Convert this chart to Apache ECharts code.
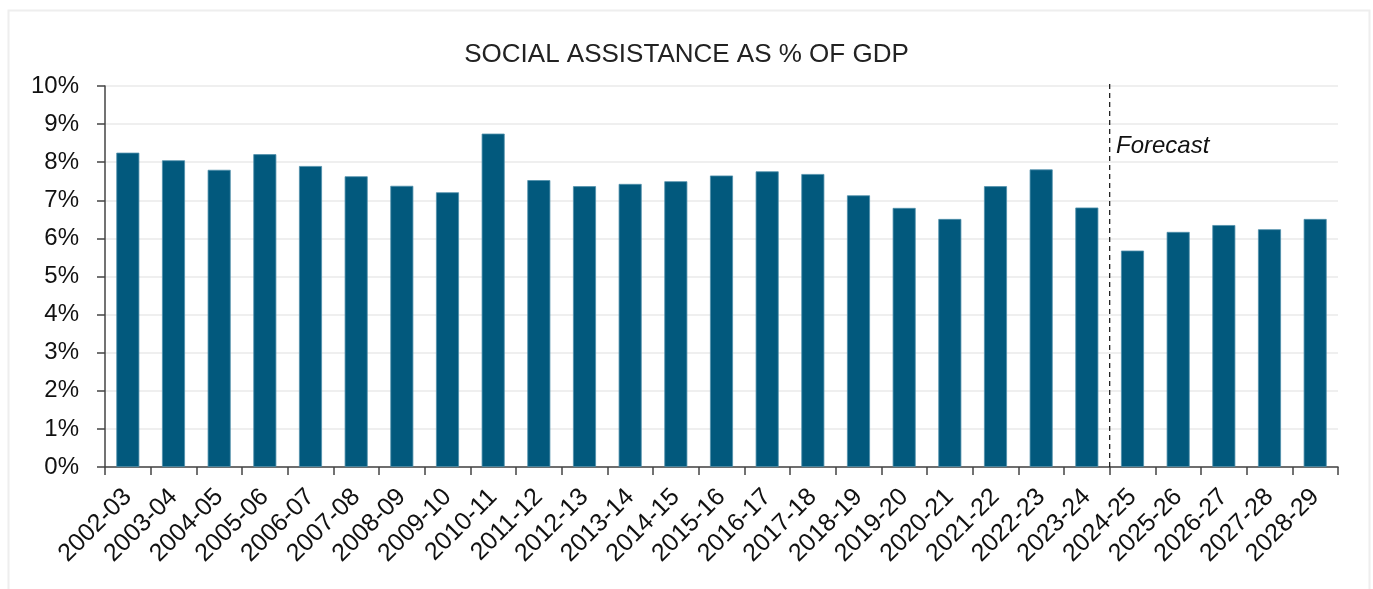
<!DOCTYPE html>
<html>
<head>
<meta charset="utf-8">
<script src="https://cdn.jsdelivr.net/npm/echarts@6/dist/echarts.min.js"></script>
<style>
html,body{margin:0;padding:0;background:#fff;}
#chart{width:1373px;height:589px;}
</style>
</head>
<body>
<div id="chart"></div>
<script>
const categories = ['2002-03','2003-04','2004-05','2005-06','2006-07','2007-08','2008-09','2009-10','2010-11','2011-12','2012-13','2013-14','2014-15','2015-16','2016-17','2017-18','2018-19','2019-20','2020-21','2021-22','2022-23','2023-24','2024-25','2025-26','2026-27','2027-28','2028-29'];
const values = [8.25,8.05,7.80,8.21,7.90,7.63,7.38,7.21,8.75,7.53,7.37,7.43,7.50,7.65,7.76,7.69,7.13,6.80,6.51,7.37,7.81,6.81,5.68,6.17,6.35,6.24,6.51];
const yTicks = [0,1,2,3,4,5,6,7,8,9,10];
const forecastBoundary = 21.5; // between 2023-24 and 2024-25
const forecastLineRange = [0, 10.07];
const titleText = 'SOCIAL ASSISTANCE AS % OF GDP';
const forecastLabel = 'Forecast';

const font = 'Liberation Sans, Arial, Helvetica, sans-serif';
const chart = echarts.init(document.getElementById('chart'), null, {renderer:'canvas'});
chart.setOption({
  backgroundColor:'#fff',
  animation:false,
  title:{text:titleText,left:'center',top:37,textStyle:{fontFamily:font,fontSize:26,fontWeight:'normal',color:'#222'}},
  grid:{left:105,right:35,top:86,bottom:122,containLabel:false},
  xAxis:[{
    type:'category',data:categories,
    axisLine:{onZero:false,lineStyle:{color:'#444',width:1.5}},
    axisTick:{show:true,length:8,alignWithLabel:false,lineStyle:{color:'#444',width:1.5}},
    axisLabel:{rotate:45,fontFamily:font,fontSize:25,color:'#111',margin:26,interval:0},
    splitLine:{show:false}
  },{
    type:'value',min:-0.5,max:categories.length-0.5,show:false
  }],
  yAxis:{
    type:'value',min:yTicks[0],max:yTicks[yTicks.length-1],interval:1,
    axisLine:{show:true,onZero:false,lineStyle:{color:'#444',width:1.5}},
    axisTick:{show:true,length:8,lineStyle:{color:'#444',width:1.5}},
    axisLabel:{fontFamily:font,fontSize:24,color:'#111',margin:26,formatter:v=>v+'%'},
    splitLine:{lineStyle:{color:'#efefef',width:2}}
  },
  series:[{
    type:'bar',data:values,barWidth:23,
    itemStyle:{color:'#02597d',borderColor:'#4f8fab',borderWidth:0.8}
  },{
    type:'line',xAxisIndex:1,clip:false,silent:true,symbol:'none',
    data:[[forecastBoundary,forecastLineRange[0]],[forecastBoundary,forecastLineRange[1]]],
    lineStyle:{color:'#222',type:[5,4],width:1.3}
  }],
  graphic:[
    {type:'rect',left:6,top:8,shape:{width:1361,height:600},style:{fill:'none',stroke:'#eeeeee',lineWidth:2},silent:true},
    {type:'text',left:1116,top:134,style:{text:forecastLabel,font:'italic 24px '+font,fill:'#111'}}
  ]
});
</script>
</body>
</html>
